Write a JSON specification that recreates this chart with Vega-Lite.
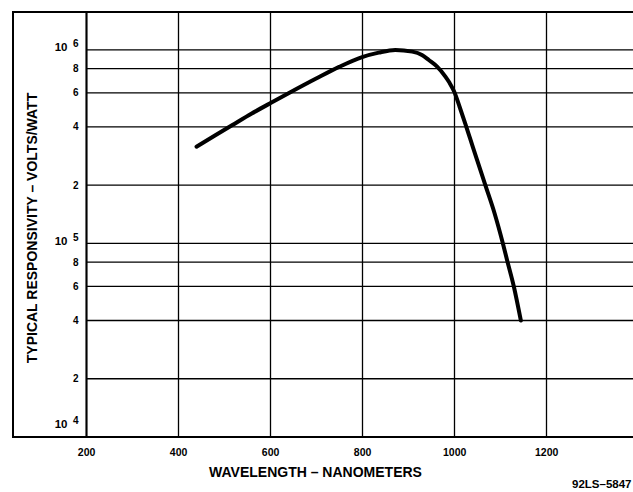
{
  "$schema": "https://vega.github.io/schema/vega-lite/v6.json",
  "width": 621,
  "height": 425,
  "autosize": {"type": "none"},
  "padding": {"left": 13, "top": 12, "right": 0, "bottom": 55},
  "background": "white",
  "config": {"view": {"stroke": "black", "strokeWidth": 2}, "font": "Liberation Sans"},
  "resolve": {"scale": {"y": "shared", "x": "shared"}, "axis": {"y": "independent", "x": "independent"}},
  "datasets": {
    "curve": [
      {"nm": 440, "r": 316000},
      {"nm": 480, "r": 361000},
      {"nm": 518, "r": 409000},
      {"nm": 560, "r": 469000},
      {"nm": 600, "r": 530000},
      {"nm": 640, "r": 597000},
      {"nm": 700, "r": 711000},
      {"nm": 750, "r": 817000},
      {"nm": 800, "r": 918000},
      {"nm": 836, "r": 968000},
      {"nm": 872, "r": 1000000},
      {"nm": 909, "r": 980000},
      {"nm": 930, "r": 942000},
      {"nm": 945, "r": 887000},
      {"nm": 963, "r": 820000},
      {"nm": 981, "r": 728000},
      {"nm": 990, "r": 676000},
      {"nm": 1000, "r": 609500},
      {"nm": 1012, "r": 507000},
      {"nm": 1024, "r": 417000},
      {"nm": 1035, "r": 346700},
      {"nm": 1050, "r": 269200},
      {"nm": 1068, "r": 199500},
      {"nm": 1088, "r": 142900},
      {"nm": 1106, "r": 100000},
      {"nm": 1115, "r": 82200},
      {"nm": 1130, "r": 59600},
      {"nm": 1145, "r": 40000}
    ],
    "grid": [
      {"r": 20000}, {"r": 40000}, {"r": 60000}, {"r": 80000},
      {"r": 100000}, {"r": 200000}, {"r": 400000}, {"r": 600000}, {"r": 800000},
      {"r": 1000000}
    ]
  },
  "layer": [
    {
      "data": {"name": "grid"},
      "mark": {"type": "rule", "color": "black", "strokeWidth": 1.3},
      "encoding": {
        "x": {
          "datum": 200, "type": "quantitative",
          "scale": {"domain": [41, 1391], "nice": false, "zero": false},
          "axis": {
            "orient": "bottom",
            "title": "WAVELENGTH – NANOMETERS",
            "values": [200, 400, 600, 800, 1000, 1200],
            "format": "d",
            "grid": true, "gridColor": "black", "gridWidth": 1.3, "gridOpacity": 1,
            "domain": false, "ticks": false,
            "labelPadding": 10, "labelFontSize": 10.5, "labelFont": "Liberation Sans", "labelFontWeight": "bold", "labelColor": "black",
            "labelFlush": false, "labelOverlap": false,
            "titleX": 302, "titleY": 35, "titleBaseline": "middle", "titleAlign": "center",
            "titleFontSize": 14, "titleFontWeight": "bold", "titleColor": "black", "titleFont": "Liberation Sans"
          }
        },
        "x2": {"datum": 1391},
        "y": {
          "field": "r", "type": "quantitative",
          "scale": {"type": "log", "domain": [10000, 1570000], "nice": false},
          "axis": {
            "orient": "left",
            "title": "TYPICAL RESPONSIVITY – VOLTS/WATT",
            "values": [10000, 20000, 40000, 60000, 80000, 100000, 200000, 400000, 600000, 800000, 1000000],
            "offset": -73,
            "domain": true, "domainColor": "black", "domainWidth": 2,
            "ticks": false, "grid": false,
            "labelPadding": 8, "labelFontSize": 10, "labelFont": "Liberation Sans", "labelFontWeight": "bold", "labelColor": "black",
            "labelOverlap": false, "labelFlush": true, "labelFlushOffset": -6,
            "labelOffset": {"condition": {"test": "datum.value == 10000 || datum.value == 100000 || datum.value == 1000000", "value": -6}, "value": 0},
            "labelExpr": "datum.value == 10000 ? '4' : datum.value == 100000 ? '5' : datum.value == 1000000 ? '6' : datum.value < 100000 ? format(datum.value / 10000, 'd') : format(datum.value / 100000, 'd')",
            "titleX": -54, "titleY": 215.5, "titleBaseline": "middle", "titleAlign": "center", "titleAngle": -90,
            "titleFontSize": 14, "titleFontWeight": "bold", "titleColor": "black", "titleFont": "Liberation Sans"
          }
        }
      }
    },
    {
      "data": {"name": "curve"},
      "mark": {"type": "line", "color": "black", "strokeWidth": 4, "interpolate": "monotone", "strokeCap": "round"},
      "encoding": {
        "x": {
          "field": "nm", "type": "quantitative",
          "scale": {"domain": [41, 1391], "nice": false, "zero": false},
          "axis": {
            "orient": "bottom",
            "title": "92LS–5847",
            "labels": false, "grid": false, "domain": false, "ticks": false,
            "titleX": 618, "titleY": 47, "titleBaseline": "middle", "titleAlign": "right",
            "titleFontSize": 11.5, "titleFontWeight": "bold", "titleColor": "black", "titleFont": "Liberation Sans"
          }
        },
        "y": {
          "field": "r", "type": "quantitative",
          "scale": {"type": "log", "domain": [10000, 1570000], "nice": false},
          "axis": {
            "orient": "left",
            "title": null,
            "values": [10000, 100000, 1000000],
            "offset": -73,
            "domain": false, "ticks": false, "grid": false,
            "labelPadding": 19, "labelFontSize": 11.5, "labelFont": "Liberation Sans", "labelFontWeight": "bold", "labelColor": "black",
            "labelOverlap": false, "labelFlush": true, "labelFlushOffset": -6, "labelOffset": -2,
            "labelExpr": "'10'"
          }
        }
      }
    }
  ]
}
